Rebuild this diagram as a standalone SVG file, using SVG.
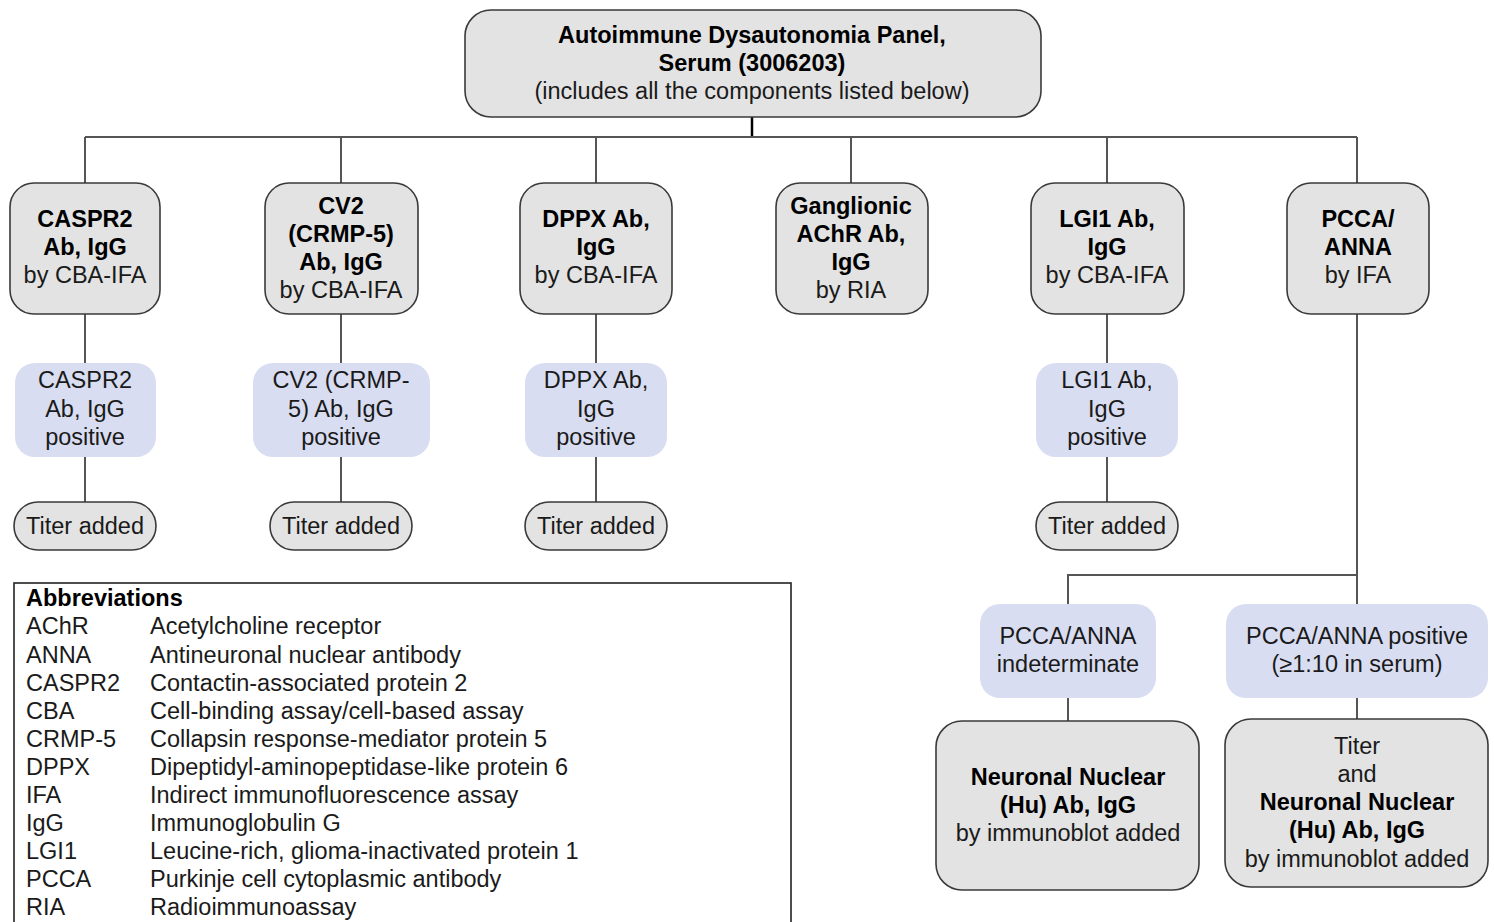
<svg xmlns="http://www.w3.org/2000/svg" width="1494" height="922" viewBox="0 0 1494 922">
<style>
text{font-family:"Liberation Sans",Arial,sans-serif;font-size:23.5px;fill:#1a1a1a;text-anchor:middle}
.b{font-weight:bold;fill:#000}
.g{fill:#e3e3e3;stroke:#3a3a3a;stroke-width:1.6}
.bl{fill:#d9ddf1;stroke:none}
.c{stroke:#555;stroke-width:2;fill:none}
.ab text{text-anchor:start}
</style>
<rect width="1494" height="922" fill="#fff"/>
<g id="connectors">
<path d="M752 117V137" stroke="#000" stroke-width="2.5" fill="none"/>
<path class="c" d="M85 137H1357M85 137V183M341 137V183M596 137V183M851 137V183M1107 137V183M1357 137V183"/>
<path class="c" d="M85 314V363M85 457V502M341 314V363M341 457V502M596 314V363M596 457V502M1107 314V363M1107 457V502"/>
<path class="c" d="M1357 314V604M1357 575H1068V604M1068 698V721M1357 698V719"/>
</g>
<g id="top"><rect class="g" x="465" y="10" width="576" height="107" rx="26"/>
<text class="b" x="752" y="43">Autoimmune Dysautonomia Panel,</text>
<text class="b" x="752" y="71">Serum (3006203)</text>
<text x="752" y="99">(includes all the components listed below)</text></g>
<g id="caspr2"><rect class="g" x="10" y="183" width="150" height="131" rx="24"/>
<text class="b" x="85" y="227">CASPR2</text><text class="b" x="85" y="255">Ab, IgG</text><text x="85" y="283">by CBA-IFA</text></g>
<g id="cv2"><rect class="g" x="265" y="183" width="153" height="131" rx="24"/>
<text class="b" x="341" y="214">CV2</text><text class="b" x="341" y="242">(CRMP-5)</text><text class="b" x="341" y="270">Ab, IgG</text><text x="341" y="298">by CBA-IFA</text></g>
<g id="dppx"><rect class="g" x="520" y="183" width="152" height="131" rx="24"/>
<text class="b" x="596" y="227">DPPX Ab,</text><text class="b" x="596" y="255">IgG</text><text x="596" y="283">by CBA-IFA</text></g>
<g id="ganglionic"><rect class="g" x="776" y="183" width="152" height="131" rx="24"/>
<text class="b" x="851" y="214">Ganglionic</text><text class="b" x="851" y="242">AChR Ab,</text><text class="b" x="851" y="270">IgG</text><text x="851" y="298">by RIA</text></g>
<g id="lgi1"><rect class="g" x="1031" y="183" width="153" height="131" rx="24"/>
<text class="b" x="1107" y="227">LGI1 Ab,</text><text class="b" x="1107" y="255">IgG</text><text x="1107" y="283">by CBA-IFA</text></g>
<g id="pcca"><rect class="g" x="1287" y="183" width="142" height="131" rx="24"/>
<text class="b" x="1358" y="227">PCCA/</text><text class="b" x="1358" y="255">ANNA</text><text x="1358" y="283">by IFA</text></g>
<g id="caspr2-pos"><rect class="bl" x="15" y="363" width="141" height="94" rx="20"/>
<text x="85" y="388">CASPR2</text><text x="85" y="417">Ab, IgG</text><text x="85" y="445">positive</text></g>
<g id="cv2-pos"><rect class="bl" x="253" y="363" width="177" height="94" rx="20"/>
<text x="341" y="388">CV2 (CRMP-</text><text x="341" y="417">5) Ab, IgG</text><text x="341" y="445">positive</text></g>
<g id="dppx-pos"><rect class="bl" x="525" y="363" width="142" height="94" rx="20"/>
<text x="596" y="388">DPPX Ab,</text><text x="596" y="417">IgG</text><text x="596" y="445">positive</text></g>
<g id="lgi1-pos"><rect class="bl" x="1036" y="363" width="142" height="94" rx="20"/>
<text x="1107" y="388">LGI1 Ab,</text><text x="1107" y="417">IgG</text><text x="1107" y="445">positive</text></g>
<g id="caspr2-titer"><rect class="g" x="14" y="502" width="142" height="48" rx="24"/><text x="85" y="534">Titer added</text></g>
<g id="cv2-titer"><rect class="g" x="270" y="502" width="142" height="48" rx="24"/><text x="341" y="534">Titer added</text></g>
<g id="dppx-titer"><rect class="g" x="525" y="502" width="142" height="48" rx="24"/><text x="596" y="534">Titer added</text></g>
<g id="lgi1-titer"><rect class="g" x="1036" y="502" width="142" height="48" rx="24"/><text x="1107" y="534">Titer added</text></g>
<g id="pcca-indet"><rect class="bl" x="980" y="604" width="176" height="94" rx="20"/>
<text x="1068" y="644">PCCA/ANNA</text><text x="1068" y="672">indeterminate</text></g>
<g id="pcca-pos"><rect class="bl" x="1226" y="604" width="262" height="94" rx="20"/>
<text x="1357" y="644">PCCA/ANNA positive</text><text x="1357" y="672">(≥1:10 in serum)</text></g>
<g id="hu-indet"><rect class="g" x="936" y="721" width="263" height="169" rx="26"/>
<text class="b" x="1068" y="785">Neuronal Nuclear</text><text class="b" x="1068" y="813">(Hu) Ab, IgG</text><text x="1068" y="841">by immunoblot added</text></g>
<g id="hu-pos"><rect class="g" x="1225" y="719" width="263" height="168" rx="26"/>
<text x="1357" y="754">Titer</text><text x="1357" y="782">and</text><text class="b" x="1357" y="810">Neuronal Nuclear</text><text class="b" x="1357" y="838">(Hu) Ab, IgG</text><text x="1357" y="867">by immunoblot added</text></g>
<g id="abbreviations" class="ab">
<rect x="14" y="583" width="777" height="360" fill="#fff" stroke="#222" stroke-width="1.6"/>
<text class="b" x="26" y="606">Abbreviations</text>
<text x="26" y="634">AChR</text><text x="150" y="634">Acetylcholine receptor</text>
<text x="26" y="663">ANNA</text><text x="150" y="663">Antineuronal nuclear antibody</text>
<text x="26" y="691">CASPR2</text><text x="150" y="691">Contactin-associated protein 2</text>
<text x="26" y="719">CBA</text><text x="150" y="719">Cell-binding assay/cell-based assay</text>
<text x="26" y="747">CRMP-5</text><text x="150" y="747">Collapsin response-mediator protein 5</text>
<text x="26" y="775">DPPX</text><text x="150" y="775">Dipeptidyl-aminopeptidase-like protein 6</text>
<text x="26" y="803">IFA</text><text x="150" y="803">Indirect immunofluorescence assay</text>
<text x="26" y="831">IgG</text><text x="150" y="831">Immunoglobulin G</text>
<text x="26" y="859">LGI1</text><text x="150" y="859">Leucine-rich, glioma-inactivated protein 1</text>
<text x="26" y="887">PCCA</text><text x="150" y="887">Purkinje cell cytoplasmic antibody</text>
<text x="26" y="915">RIA</text><text x="150" y="915">Radioimmunoassay</text>
</g>
</svg>
